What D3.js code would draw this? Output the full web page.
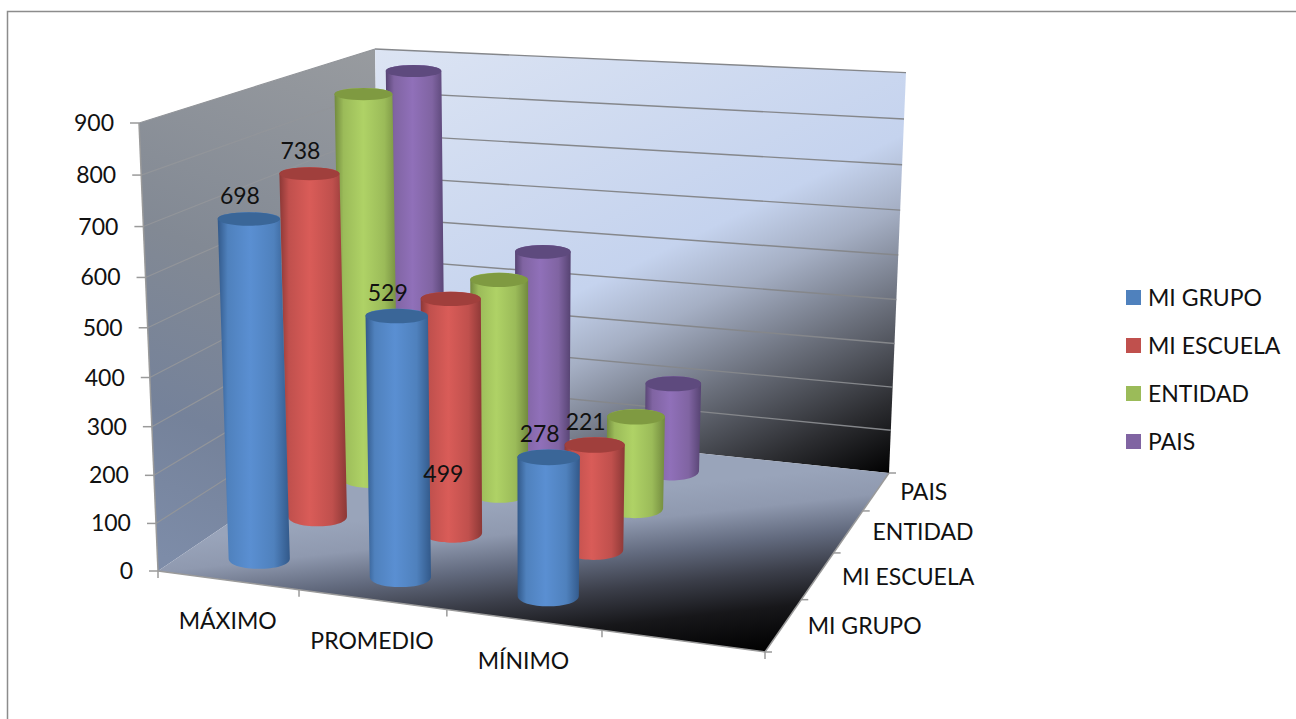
<!DOCTYPE html>
<html lang="es">
<head>
<meta charset="utf-8">
<title>Resultados</title>
<script src="https://cdn.jsdelivr.net/npm/d3@7/dist/d3.min.js"></script>
<style>
html,body{margin:0;padding:0;background:#fff;overflow:hidden}
svg{display:block}
text{font-family:Lato,"Open Sans",sans-serif;font-size:23px;fill:#111}
</style>
</head>
<body>
<svg id="chart" width="1296" height="719"></svg>
<script>
// ---------- data ----------
const categories = ["MÁXIMO", "PROMEDIO", "MÍNIMO"];
const seriesNames = ["MI GRUPO", "MI ESCUELA", "ENTIDAD", "PAIS"];
const miGrupo = [698, 529, 278];
const miEscuela = [738, 499, 221];
const entidad = [862, 477, 202];
const pais = [874, 480, 201];
const yTicks = [0, 100, 200, 300, 400, 500, 600, 700, 800, 900];
const seriesColors = ["#4f81bd", "#c0504d", "#9bbb59", "#8064a2"];
const bodyEdge = ["#32598a", "#8c3836", "#728a3e", "#564372"];
const bodyLight = ["#5a8fd2", "#d95c58", "#afd266", "#9070b9"];
const capColor = ["#3a6698", "#a03f3c", "#7f9a41", "#5e4a7e"];

// ---------- chart box in page pixels: (u along categories, v into depth, z up) ----------
const floorCorners = [[158, 571], [765, 652], [889, 473], [381, 420]];
const topFrontLeft = [139, 123];
const topBackRight = [906, 74];

function makeCamera(p, tfl, tbr) {
  const [[x0, y0], [x1, y1], [x2, y2], [x3, y3]] = p;
  const sx = x0 - x1 + x2 - x3, sy = y0 - y1 + y2 - y3;
  const dx1 = x1 - x2, dx2 = x3 - x2, dy1 = y1 - y2, dy2 = y3 - y2;
  const det = dx1 * dy2 - dx2 * dy1;
  const g = (sx * dy2 - dx2 * sy) / det, h = (dx1 * sy - sx * dy1) / det;
  const a = x1 - x0 + g * x1, b = x3 - x0 + h * x3;
  const d = y1 - y0 + g * y1, e = y3 - y0 + h * y3;
  // vertical terms, solved from the two visible top corners
  const nBR = a + b + x0, wBR = 1 + g + h;
  const k = ((nBR - tbr[0] * wBR) - (x0 - tfl[0])) / (tbr[0] - tfl[0]);
  const cx = tfl[0] * (1 + k) - x0;
  const cy = tfl[1] * (1 + k) - y0;
  return (u, v, z) => {
    const w = 1 + g * u + h * v + k * z;
    return [(a * u + b * v + cx * z + x0) / w, (d * u + e * v + cy * z + y0) / w];
  };
}
const camera = makeCamera(floorCorners, topFrontLeft, topBackRight);

// scales
const uScale = d3.scaleBand().domain(d3.range(4)).range([0, 1]);      // 3 categories + an empty slot
const vScale = d3.scaleBand().domain(d3.range(4)).range([0, 1]);
const hScale = d3.scaleLinear().domain([0, 900]).range([0, 1]);
const rxScale = d3.scaleLinear().domain([0.125, 0.875]).range([30.6, 27.2]);
const ryScale = d3.scaleLinear().domain([70, 600]).range([6, 8.6]);

const project = (u, v, val) => camera(u, v, hScale(val));
const midU = i => uScale(i) + uScale.bandwidth() / 2;
const midV = j => vScale(j) + vScale.bandwidth() / 2;

const svg = d3.select("#chart");
const defs = svg.append("defs");

function userGrad(id, p1, p2, stops) {
  const g = defs.append("linearGradient").attr("id", id).attr("gradientUnits", "userSpaceOnUse")
    .attr("x1", p1[0]).attr("y1", p1[1]).attr("x2", p2[0]).attr("y2", p2[1]);
  stops.forEach(([o, c]) => g.append("stop").attr("offset", o).attr("stop-color", c));
}
userGrad("backGrad", [287, -90], [640, 640], [
  [0.20, "#dce4f3"], [0.58, "#c5d3ee"], [0.66, "#a5afc4"], [0.76, "#6b707c"], [0.87, "#2c2d31"], [0.95, "#000000"]
]);
userGrad("leftGrad", [372, 48], [170, 560], [[0, "#989b9f"], [0.45, "#828994"], [0.75, "#75829a"], [1, "#7d8ca8"]]);
userGrad("floorGrad", [500, 505], [519, 679], [
  [0, "#99a4ba"], [0.17, "#8f99af"], [0.36, "#626a7e"], [0.55, "#3b3e49"], [0.75, "#17171a"], [1, "#000000"]
]);
seriesNames.forEach((_, j) => {
  const g = defs.append("linearGradient").attr("id", "body" + j).attr("x1", 0).attr("x2", 1).attr("y1", 0).attr("y2", 0);
  [[0, bodyEdge[j]], [0.14, seriesColors[j]], [0.45, bodyLight[j]], [0.78, seriesColors[j]], [1, bodyEdge[j]]]
    .forEach(([o, c]) => g.append("stop").attr("offset", o).attr("stop-color", c));
});

// page frame
svg.append("rect").attr("x", 7.5).attr("y", 11.5).attr("width", 1400).attr("height", 800)
  .attr("fill", "#fff").attr("stroke", "#8c8c8c").attr("stroke-width", 1.5);

const poly = pts => "M" + pts.map(p => p.join(",")).join("L") + "Z";
const F = [[0, 0], [1, 0], [1, 1], [0, 1]].map(([u, v]) => camera(u, v, 0));
const C = [[0, 0], [1, 0], [1, 1], [0, 1]].map(([u, v]) => camera(u, v, 1));
svg.append("path").attr("d", poly([F[0], F[3], C[3], C[0]])).attr("fill", "url(#leftGrad)");
svg.append("path").attr("d", poly([F[3], F[2], C[2], C[3]])).attr("fill", "url(#backGrad)");
svg.append("path").attr("d", poly([F[0], F[1], F[2], F[3]])).attr("fill", "url(#floorGrad)");

// gridlines on both walls
yTicks.filter(t => t > 0).forEach(t => {
  const a = project(0, 0, t), b = project(0, 1, t), c = project(1, 1, t);
  svg.append("line").attr("x1", a[0]).attr("y1", a[1]).attr("x2", b[0]).attr("y2", b[1])
    .attr("stroke", "#92959a").attr("stroke-width", 1.2);
  svg.append("line").attr("x1", b[0]).attr("y1", b[1]).attr("x2", c[0]).attr("y2", c[1])
    .attr("stroke", "#85878b").attr("stroke-width", 1.4);
});

// axis lines and ticks
const axisColor = "#9a9a9a";
const seg = (p, q, w) => svg.append("line").attr("x1", p[0]).attr("y1", p[1]).attr("x2", q[0]).attr("y2", q[1])
  .attr("stroke", axisColor).attr("stroke-width", w || 1.5);
seg(F[0], C[0]); seg(F[0], F[1]); seg(F[1], F[2]);
yTicks.forEach(t => {
  const p = project(0, 0, t);
  seg([p[0] - 9, p[1]], p);
  svg.append("text").attr("x", p[0] - 25).attr("y", p[1] + 8).attr("text-anchor", "end").text(t);
});
d3.range(5).forEach(i => {
  const p = camera(i / 4, 0, 0);
  seg(p, [p[0], p[1] + 7]);
  const q = camera(1, i / 4, 0);
  seg(q, [q[0] + 7, q[1]]);
});
categories.forEach((c, i) => {
  const p = camera(midU(i), 0, 0);
  svg.append("text").attr("x", p[0]).attr("y", p[1] + 49).attr("text-anchor", "middle").text(c);
});
seriesNames.forEach((s, j) => {
  const p = camera(1, midV(j), 0);
  svg.append("text").attr("x", p[0] + 24).attr("y", p[1] + 9).text(s);
});

// cylinders, back series first
const allSeries = [miGrupo, miEscuela, entidad, pais];
d3.range(3, -1, -1).forEach(j => {
  categories.forEach((c, i) => {
    const u = midU(i), v = midV(j), val = allSeries[j][i];
    const b = project(u, v, 0), t = project(u, v, val);
    const rb = rxScale(v), rt = rxScale(v) + 0.6;
    const ryb = ryScale(b[1]) + 2, ryt = ryScale(t[1]);
    const path = d3.path();
    path.moveTo(t[0] - rt, t[1]);
    path.lineTo(b[0] - rb, b[1] + 1);
    path.bezierCurveTo(b[0] - rb, b[1] + 1 + ryb * 1.33, b[0] + rb, b[1] + 1 + ryb * 1.33, b[0] + rb, b[1] + 1);
    path.lineTo(t[0] + rt, t[1]);
    path.bezierCurveTo(t[0] + rt, t[1] - ryt * 1.33, t[0] - rt, t[1] - ryt * 1.33, t[0] - rt, t[1]);
    path.closePath();
    svg.append("path").attr("d", path.toString()).attr("fill", `url(#body${j})`);
    svg.append("ellipse").attr("cx", t[0]).attr("cy", t[1]).attr("rx", rt).attr("ry", ryt).attr("fill", capColor[j]);
  });
});

// data labels (the label of 499 sits low on its bar, anchored at a lower height)
const labelAnchors = [[698, 529, 278], [738, 75, 221]];
[miGrupo, miEscuela].forEach((vals, j) => {
  vals.forEach((val, i) => {
    const p = project(midU(i), midV(j), labelAnchors[j][i]);
    svg.append("text").attr("x", p[0] - 9).attr("y", p[1] - 15).attr("text-anchor", "middle").text(val);
  });
});

// legend
const legendY = d3.scalePoint().domain(seriesNames).range([297.5, 441.5]);
seriesNames.forEach((s, j) => {
  const y = legendY(s);
  svg.append("rect").attr("x", 1126).attr("y", y - 7.5).attr("width", 15).attr("height", 15).attr("fill", seriesColors[j]);
  svg.append("text").attr("x", 1148).attr("y", y + 8).text(s);
});
</script>
</body>
</html>
